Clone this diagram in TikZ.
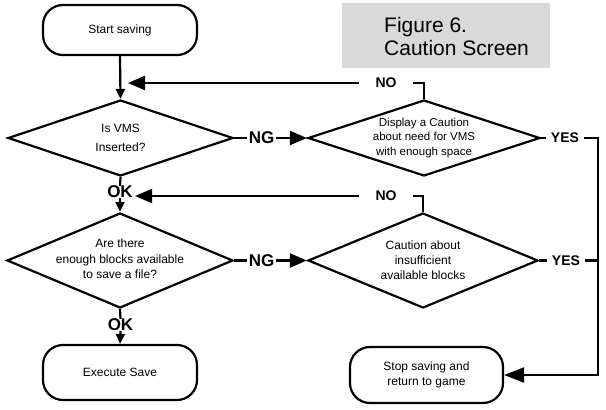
\documentclass[tikz,border=0pt]{standalone}
\usepackage{fontspec}
\setmainfont{Liberation Sans}
\usetikzlibrary{shapes.geometric,arrows.meta}
\definecolor{boxgray}{RGB}{217,217,217}
\tikzset{
  ln/.style={line width=2.2pt},
  dia/.style={diamond, draw, line width=2.2pt, inner sep=0pt},
  diatext/.style={align=center, inner sep=0pt, font=\fontsize{12}{15}\selectfont},
  term/.style={rectangle, draw, line width=2.2pt, rounded corners=20pt, align=center,
    font=\fontsize{12}{15}\selectfont},
  biglbl/.style={font=\fontsize{17}{17}\bfseries, inner xsep=2pt, inner ysep=0pt, outer sep=0pt},
  smlbl/.style={font=\fontsize{14}{14}\bfseries, inner ysep=0pt, outer sep=0pt},
  bigarrow/.style={ln, -{Triangle[length=17pt,width=14pt]}},
  yesarrow/.style={ln, -{Triangle[length=20pt,width=15pt]}},
  smallarrow/.style={ln, -{Triangle[length=10pt,width=9pt]}},
}
\begin{document}
\begin{tikzpicture}[x=1pt,y=-1pt]
\useasboundingbox (0,0) rectangle (606,410);
% title
\node[fill=boxgray, minimum width=208pt, minimum height=65pt, inner sep=0pt] (titlebox) at (446,35.5) {};
\node[anchor=west, align=left, inner sep=0pt, font=\fontsize{21}{23}\selectfont] (title) at (384,36) {Figure 6.\\Caution Screen};
% terminals
\node[term, minimum width=154pt, minimum height=50pt] (start) at (120,30) {Start saving};
\node[term, minimum width=154pt, minimum height=55pt] (exec) at (120,372.5) {Execute Save};
\node[term, minimum width=153pt, minimum height=56pt] (stop) at (426.5,375) {Stop saving and\\return to game};
% decisions
\node[dia, minimum width=225pt, minimum height=76pt] (d1) at (120.5,138) {};
\node[dia, minimum width=232pt, minimum height=76pt] (d2) at (424,138) {};
\node[dia, minimum width=226pt, minimum height=95pt] (d3) at (120,260.5) {};
\node[dia, minimum width=230pt, minimum height=95pt] (d4) at (423,260.5) {};
\node[diatext, font=\fontsize{12}{19}\selectfont] (d1t) at (d1.center) {Is VMS\\Inserted?};
\node[diatext, font=\fontsize{11.5}{14.5}\selectfont] (d2t) at (d2.center) {Display a Caution\\about need for VMS\\with enough space};
\node[diatext, font=\fontsize{12}{15.5}\selectfont] (d3t) at ([yshift=1.5pt]d3.center) {Are there\\enough blocks available\\to save a file?};
\node[diatext] (d4t) at (d4.center) {Caution about\\insufficient\\available blocks};
% labels
\node[biglbl] (ng1) at (261.5,138) {NG};
\node[biglbl] (ng2) at (261.5,260.5) {NG};
\node[biglbl] (ok1) at (120,192) {OK};
\node[biglbl] (ok2) at (120.5,325) {OK};
\node[smlbl, inner xsep=16.5pt] (no1) at (386,83) {NO};
\node[smlbl, inner xsep=16.5pt] (no2) at (386,196) {NO};
\node[smlbl, inner xsep=5pt] (yes1) at (565,138) {YES};
\node[smlbl, inner xsep=5pt] (yes2) at (566,260.5) {YES};
% free ends
\coordinate (tip1) at (128,83);
\coordinate (tip2) at (135,196);
\coordinate (c1) at (598,138);
\coordinate (c2) at (598,260.5);
% connectors
\draw[smallarrow] (start.south) -- (d1.north);
\draw[ln] (d1.east) -- (ng1.west);
\draw[bigarrow] (ng1.east) -- (d2.west);
\draw[ln] (d2.north) |- (no1.east);
\draw[bigarrow] (no1.west) -- (tip1);
\draw[ln] (d1.south) -- (ok1.north);
\draw[smallarrow] (ok1.south) -- (d3.north);
\draw[ln] (d3.east) -- (ng2.west);
\draw[bigarrow] (ng2.east) -- (d4.west);
\draw[ln] (d4.north) |- (no2.east);
\draw[bigarrow] (no2.west) -- (tip2);
\draw[ln] (d3.south) -- (ok2.north);
\draw[smallarrow] (ok2.south) -- (exec.north);
\draw[ln] (d2.east) -- (yes1.west);
\draw[yesarrow] (yes1.east) -- (c1) |- (stop.east);
\draw[ln] (d4.east) -- (yes2.west);
\draw[ln] (yes2.east) -- (c2);
\end{tikzpicture}
\end{document}
